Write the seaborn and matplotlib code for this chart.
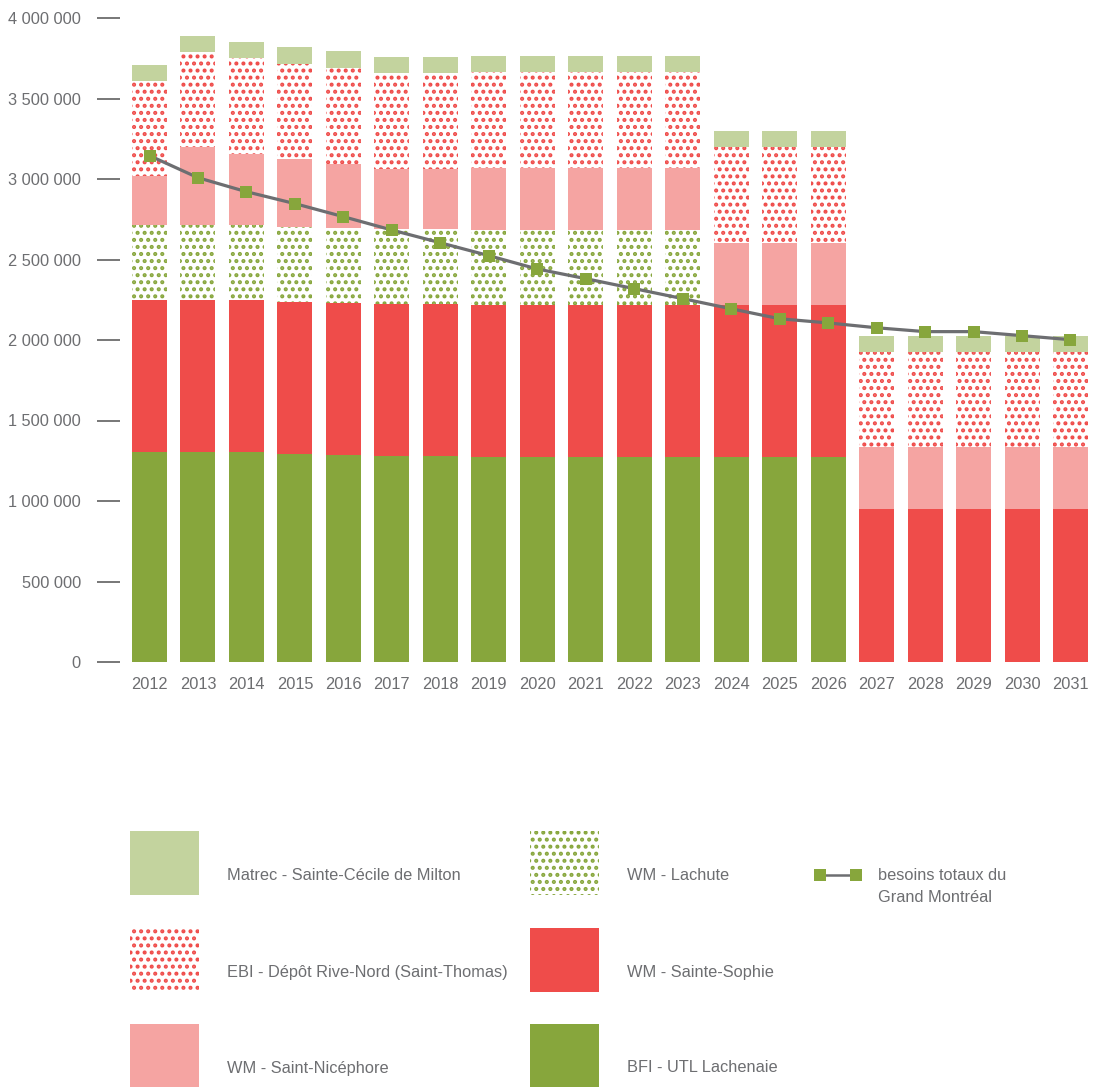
import numpy as np
import pandas as pd
import matplotlib
matplotlib.use("Agg")
import matplotlib.pyplot as plt
import seaborn as sns
from matplotlib.patches import Rectangle
from matplotlib.lines import Line2D
from matplotlib.ticker import FuncFormatter

# ---------------- data ----------------
years = [str(y) for y in range(2012, 2032)]
bfi_lachenaie = [1305000, 1305000, 1305000, 1292000, 1285000, 1280000, 1280000,
                 1275000, 1275000, 1275000, 1275000, 1275000, 1275000, 1275000, 1275000,
                 0, 0, 0, 0, 0]
wm_sainte_sophie = [945000] * 15 + [950000] * 5
wm_lachute = [465000] * 12 + [0] * 8
wm_saint_nicephore = [305000, 483000, 441000, 420000, 397000, 371000, 374000,
                      385000, 385000, 385000, 385000, 385000, 385000, 385000, 385000,
                      383000, 383000, 383000, 383000, 383000]
ebi_rive_nord = [590000, 592000, 595000, 595000, 600000, 598000, 594000,
                 592000, 592000, 592000, 592000, 592000, 595000, 595000, 595000,
                 593000, 593000, 593000, 593000, 593000]
matrec_milton = [100000] * 20
besoins = [3145000, 3008000, 2921000, 2847000, 2766000, 2683000, 2604000, 2524000,
           2441000, 2381000, 2319000, 2257000, 2194000, 2132000, 2106000, 2076000,
           2052000, 2052000, 2027000, 2002000]

labels = {
    "matrec": "Matrec - Sainte-Cécile de Milton",
    "ebi": "EBI - Dépôt Rive-Nord (Saint-Thomas)",
    "nicephore": "WM - Saint-Nicéphore",
    "lachute": "WM - Lachute",
    "sophie": "WM - Sainte-Sophie",
    "bfi": "BFI - UTL Lachenaie",
    "line": "besoins totaux du\nGrand Montréal",
}

# ---------------- style ----------------
DPI = 127
W, H = 1094, 1087
def pt(px):
    return px * 72.0 / DPI

GREEN = "#87a63c"
LIGHT_GREEN = "#c3d39e"
RED = "#ef4c4a"
PINK = "#f5a4a2"
GRAY = "#6d6e71"
TICK_GRAY = "#7a7a7a"
HATCH = "..."

sns.set_style("white")
plt.rcParams["font.family"] = ["Liberation Sans", "DejaVu Sans"]
plt.rcParams["hatch.linewidth"] = 1.5

fig = plt.figure(figsize=(W / DPI, H / DPI), dpi=DPI)
fig.patch.set_facecolor("white")

# legend layer in pixel coordinates
axl = fig.add_axes([0, 0, 1, 1])
axl.set_xlim(0, W)
axl.set_ylim(H, 0)
axl.axis("off")

ax = fig.add_axes([120 / W, (H - 662) / H, (W - 120) / W, 644 / H])

# ---------------- stacked bars ----------------
layers = [
    ("bfi", bfi_lachenaie, GREEN, None, None),
    ("sophie", wm_sainte_sophie, RED, None, None),
    ("lachute", wm_lachute, "white", GREEN, HATCH),
    ("nicephore", wm_saint_nicephore, PINK, None, None),
    ("ebi", ebi_rive_nord, "white", RED, HATCH),
    ("matrec", matrec_milton, LIGHT_GREEN, None, None),
]
cum = np.cumsum(np.array([l[1] for l in layers], dtype=float), axis=0)
BAR_W = 0.722
for i in range(len(layers) - 1, -1, -1):
    key, vals, face, dotc, hatch = layers[i]
    df = pd.DataFrame({"year": years, "value": cum[i]})
    kw = dict(edgecolor=dotc if dotc else face, linewidth=0)
    if hatch:
        kw["hatch"] = hatch
    sns.barplot(data=df, x="year", y="value", color=face, saturation=1,
                width=BAR_W, errorbar=None, ax=ax, **kw)

# ---------------- total needs line ----------------
line_df = pd.DataFrame({"pos": np.arange(len(years)), "besoins": besoins})
sns.lineplot(data=line_df, x="pos", y="besoins", ax=ax, color=GRAY,
             linewidth=pt(3.2), marker="s", markersize=pt(12.5),
             markerfacecolor=GREEN, markeredgecolor=GREEN, markeredgewidth=0,
             zorder=5)

# ---------------- axes ----------------
step = 48.47
ax.set_xlim(-(149.5 - 120) / step, 19 + (W - 1070.5) / step)
ax.set_ylim(0, 4000000)
ax.set_yticks(np.arange(0, 4000001, 500000))
ax.yaxis.set_major_formatter(FuncFormatter(lambda v, p: f"{int(v):,}".replace(",", " ")))
ax.set_xlabel("")
ax.set_ylabel("")
for s in ax.spines.values():
    s.set_visible(False)
FS = pt(16.4)
ax.tick_params(axis="y", left=True, length=pt(23), width=pt(2), color=TICK_GRAY,
               pad=pt(16), labelsize=FS, labelcolor=GRAY)
ax.tick_params(axis="x", bottom=False, length=0, pad=pt(15), labelsize=FS,
               labelcolor=GRAY)
ax.set_facecolor("white")

# ---------------- legend ----------------
leg_items = [
    # key, x, y_top, face, dot color, hatch, text_y
    ("matrec", 130, 831, LIGHT_GREEN, None, None, 875),
    ("ebi", 130, 928, "white", RED, HATCH, 972),
    ("nicephore", 130, 1024, PINK, None, None, 1068),
    ("lachute", 530, 831, "white", GREEN, HATCH, 875),
    ("sophie", 530, 928, RED, None, None, 972),
    ("bfi", 530, 1024, GREEN, None, None, 1068),
]
for key, x0, y0, face, dotc, hatch, ty in leg_items:
    r = Rectangle((x0, y0), 69, 64 if key not in ("nicephore", "bfi") else 63,
                  facecolor=face, edgecolor=dotc if dotc else face, linewidth=0,
                  hatch=hatch)
    axl.add_patch(r)
    axl.text(x0 + 97, ty, labels[key], fontsize=FS, color=GRAY, va="center", ha="left")

axl.add_line(Line2D([820.3, 856.3], [874.5, 874.5], color=GRAY, linewidth=pt(2.5),
                    marker="s", markersize=pt(12.5), markerfacecolor=GREEN,
                    markeredgecolor=GREEN, markeredgewidth=0))
axl.text(878, 875, "besoins totaux du", fontsize=FS, color=GRAY, va="center", ha="left")
axl.text(878, 898, "Grand Montréal", fontsize=FS, color=GRAY, va="center", ha="left")

fig.savefig("out.png", dpi=DPI, facecolor="white")
